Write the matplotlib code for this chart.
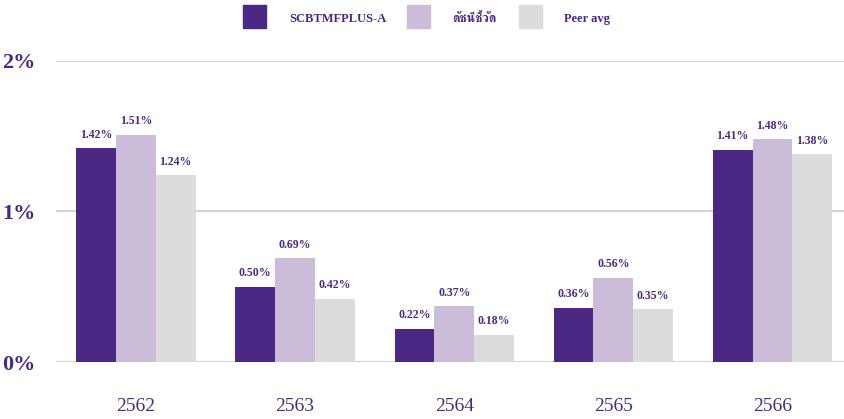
import matplotlib
matplotlib.use("Agg")
import matplotlib.pyplot as plt
import numpy as np

years = ["2562", "2563", "2564", "2565", "2566"]
fund = [1.42, 0.50, 0.22, 0.36, 1.41]
benchmark = [1.51, 0.69, 0.37, 0.56, 1.48]
peer_avg = [1.24, 0.42, 0.18, 0.35, 1.38]
series_names = ["SCBTMFPLUS-A", "ดัชนีชี้วัด", "Peer avg"]

purple = "#4B2883"
colors = [purple, "#CBBDDA", "#DCDCDC"]
serif = ["Liberation Serif", "FreeSerif", "DejaVu Sans"]

fig = plt.figure(figsize=(8.45, 4.19), dpi=100)
ax = fig.add_axes([56.4 / 845, (419 - 362) / 419, 795.6 / 845, 301 / 419])

x = np.arange(len(years))
w = 0.25
for i, vals in enumerate([fund, benchmark, peer_avg]):
    pos = x + (i - 1) * w
    ax.bar(pos, vals, width=w, color=colors[i], zorder=3)
    for px, v in zip(pos, vals):
        ax.text(px, v + 0.05, f"{v:.2f}%", ha="center", va="bottom",
                fontsize=8.5, fontweight="bold", color=purple, family=serif)

ax.set_xlim(-0.5, 4.5)
ax.set_ylim(0, 2)
ax.set_yticks([0, 1, 2])
ax.set_yticklabels(["0%", "1%", "2%"])
ax.set_xticks(x)
ax.set_xticklabels(years)
ax.grid(axis="y", color="#D3D3D3", linewidth=1.5, zorder=0)
for s in ax.spines.values():
    s.set_visible(False)
ax.tick_params(length=0)
ax.tick_params(axis="y", pad=15)
ax.tick_params(axis="x", pad=26)
for lab in ax.get_yticklabels():
    lab.set_family(serif)
    lab.set_fontsize(16)
    lab.set_fontweight("bold")
    lab.set_color(purple)
for lab in ax.get_xticklabels():
    lab.set_family(serif)
    lab.set_fontsize(14)
    lab.set_color(purple)

# legend drawn by hand so it sits like the reference
box_x = [243, 407, 519]
txt_x = [289, 452, 564]
for i, name in enumerate(series_names):
    fig.patches.append(plt.Rectangle((box_x[i] / 845, 1 - 28 / 419), 23 / 845, 23 / 419,
                                     transform=fig.transFigure, color=colors[i]))
    fig.text(txt_x[i] / 845, 1 - 19 / 419, name, ha="left", va="center",
             fontsize=9, fontweight="bold", color=purple, family=serif)

fig.savefig("out.png", dpi=100)
